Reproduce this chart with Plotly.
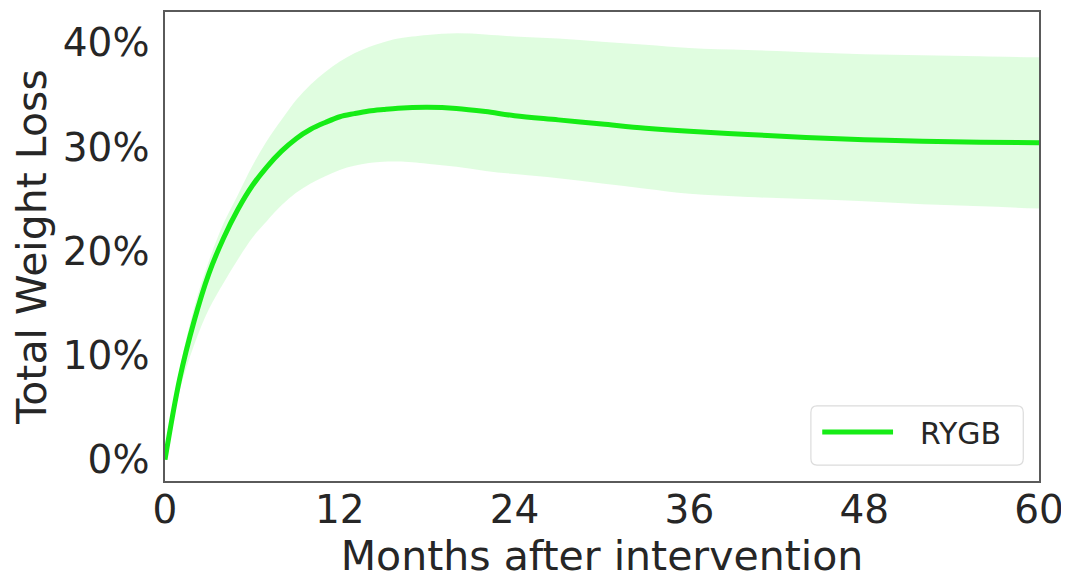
import plotly.graph_objects as go

months = [0, 1, 2, 3, 4, 5, 6, 7, 8, 9, 10, 11, 12, 13, 14, 15, 16, 18, 20, 22, 24, 27, 30, 33, 36, 40, 44, 48, 52, 56, 60]
twl_mean = [0, 7.7, 13.3, 17.8, 21.2, 24.0, 26.3, 28.1, 29.6, 30.8, 31.7, 32.35, 32.9, 33.2, 33.45, 33.6, 33.72, 33.8, 33.7, 33.4, 33.0, 32.6, 32.2, 31.8, 31.5, 31.2, 30.9, 30.7, 30.55, 30.45, 30.4]
twl_upper = [0, 8.6, 14.6, 19.0, 22.6, 25.4, 28.2, 30.6, 32.6, 34.5, 36.0, 37.2, 38.2, 39.0, 39.6, 40.05, 40.4, 40.75, 40.9, 40.8, 40.6, 40.4, 40.1, 39.8, 39.5, 39.3, 39.1, 38.9, 38.8, 38.7, 38.6]
twl_lower = [0, 6.6, 11.0, 14.4, 16.9, 19.2, 21.3, 22.9, 24.4, 25.6, 26.5, 27.2, 27.8, 28.2, 28.45, 28.58, 28.6, 28.4, 28.1, 27.7, 27.4, 27.0, 26.5, 26.0, 25.5, 25.2, 25.0, 24.8, 24.5, 24.3, 24.1]
x_ticks = [0, 12, 24, 36, 48, 60]
y_ticks = [0, 10, 20, 30, 40]
y_tick_labels = ["0%", "10%", "20%", "30%", "40%"]
series_name = "RYGB"

line_color = "rgb(22,236,22)"
fill_color = "rgba(0,235,0,0.12)"
text_color = "#262626"
font_family = "DejaVu Sans"

fig = go.Figure()
fig.add_trace(go.Scatter(x=months, y=twl_upper, mode="lines", line=dict(width=0, color=fill_color, shape="spline", smoothing=1.0),
                         showlegend=False, hoverinfo="skip"))
fig.add_trace(go.Scatter(x=months, y=twl_lower, mode="lines", line=dict(width=0, color=fill_color, shape="spline", smoothing=1.0),
                         fill="tonexty", fillcolor=fill_color, showlegend=False, hoverinfo="skip"))
fig.add_trace(go.Scatter(x=months, y=twl_mean, mode="lines", name=series_name,
                         line=dict(width=5, color=line_color, shape="spline", smoothing=1.0),
                         showlegend=False))

# legend drawn as decoration (rounded box, long line sample, label)
lx0, lx1, ly0, ly1 = 0.739, 0.982, 0.034, 0.160
rx, ry = 0.007, 0.014
legend_path = (f"M{lx0+rx},{ly0} L{lx1-rx},{ly0} Q{lx1},{ly0} {lx1},{ly0+ry} "
               f"L{lx1},{ly1-ry} Q{lx1},{ly1} {lx1-rx},{ly1} L{lx0+rx},{ly1} "
               f"Q{lx0},{ly1} {lx0},{ly1-ry} L{lx0},{ly0+ry} Q{lx0},{ly0} {lx0+rx},{ly0} Z")
fig.add_shape(type="path", path=legend_path, xref="x domain", yref="y domain",
              line=dict(color="#dcdcdc", width=1.2), fillcolor="rgba(255,255,255,0.8)", layer="above")
fig.add_shape(type="line", x0=0.752, x1=0.833, y0=0.1045, y1=0.1045, xref="x domain", yref="y domain",
              line=dict(color=line_color, width=5), layer="above")
fig.add_annotation(text=series_name, x=0.861, y=0.102, xref="x domain", yref="y domain",
                   xanchor="left", yanchor="middle", showarrow=False,
                   font=dict(size=30, color=text_color, family=font_family))

# page body adds an 8px offset, so the figure is sized/margined to compensate
fig.update_layout(
    width=1061, height=572,
    margin=dict(l=157, r=30, t=4, b=99),
    paper_bgcolor="white", plot_bgcolor="white",
    font=dict(family=font_family, color=text_color),
    showlegend=False,
    xaxis=dict(range=[0, 60], tickvals=x_ticks, showgrid=False, zeroline=False,
               showline=True, linecolor="#5a5a5a", linewidth=1.5, mirror=True,
               ticks="", ticklen=0, ticklabelstandoff=-7, automargin=False,
               tickfont=dict(size=39, color=text_color, family=font_family),
               title=dict(text="Months after intervention", standoff=2,
                          font=dict(size=41, color=text_color, family=font_family))),
    yaxis=dict(range=[-2.05, 42.95], tickvals=y_ticks, ticktext=y_tick_labels,
               showgrid=False, zeroline=False,
               showline=True, linecolor="#5a5a5a", linewidth=1.5, mirror=True,
               ticks="", ticklen=0, ticklabelstandoff=6, automargin=False,
               tickfont=dict(size=39, color=text_color, family=font_family),
               title=dict(text="Total Weight Loss", standoff=8,
                          font=dict(size=41, color=text_color, family=font_family))),
)

fig.write_html("out.html")
